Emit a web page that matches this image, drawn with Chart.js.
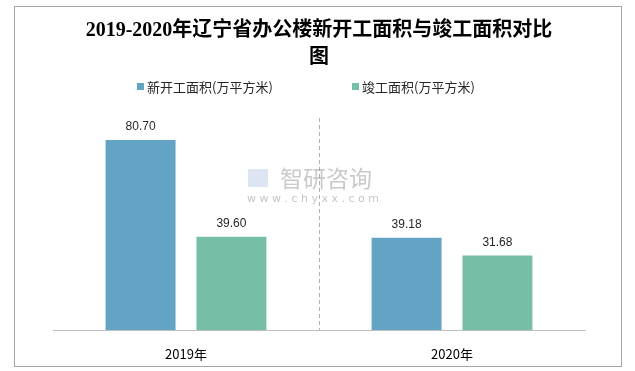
<!DOCTYPE html>
<html>
<head>
<meta charset="utf-8">
<script src="https://cdn.jsdelivr.net/npm/chart.js@4.4.0/dist/chart.umd.min.js"></script>
<style>
  html, body { margin: 0; padding: 0; background: #fff; }
  #wrap { position: relative; width: 635px; height: 371px; }
  #frame { position: absolute; left: 14px; top: 6px; width: 606px; height: 359px; border: 1px solid #a6a6a6; pointer-events: none; }
</style>
</head>
<body>
<div id="wrap">
  <canvas id="grafico" width="635" height="371"></canvas>
  <div id="frame"></div>
</div>
<script>
// datos del grafico
const anios = ['2019年', '2020年'];
const nuevos = [80.70, 39.18];
const terminados = [39.60, 31.68];
const nombresSeries = ['新开工面积(万平方米)', '竣工面积(万平方米)'];
const coloresSeries = ['#63a3c3', '#76bfa6'];

const fuenteCJK = '"Noto Sans CJK SC", "Liberation Sans", sans-serif';

// leyenda dibujada a mano (los items estan muy separados en el original)
const leyendaPlugin = {
    id: 'leyendaManual',
    afterDraw(chart) {
        const ctx = chart.ctx;
        const posiciones = [137, 352];
        ctx.save();
        ctx.font = '13px ' + fuenteCJK;
        ctx.textAlign = 'left';
        ctx.textBaseline = 'middle';
        chart.data.datasets.forEach(function (ds, i) {
            ctx.fillStyle = ds.backgroundColor;
            ctx.fillRect(posiciones[i], 83, 7, 7);
            ctx.fillStyle = '#262626';
            ctx.fillText(ds.label, posiciones[i] + 10, 87);
        });
        ctx.restore();
    }
};

// etiquetas encima de cada barra + marca de agua
const etiquetasPlugin = {
    id: 'etiquetas',
    afterDatasetsDraw(chart) {
        const ctx = chart.ctx;
        ctx.save();
        ctx.font = '12px "Liberation Sans", Arial, sans-serif';
        ctx.fillStyle = '#262626';
        ctx.textAlign = 'center';
        ctx.textBaseline = 'bottom';
        chart.data.datasets.forEach(function (ds, i) {
            chart.getDatasetMeta(i).data.forEach(function (barra, j) {
                ctx.fillText(ds.data[j].toFixed(2), barra.x, barra.y - 7);
            });
        });
        // marca de agua
        ctx.fillStyle = 'rgba(150,150,150,0.5)';
        ctx.font = '23px ' + fuenteCJK;
        ctx.textAlign = 'left';
        ctx.textBaseline = 'middle';
        ctx.fillText('智研咨询', 280, 178);
        ctx.font = '11px "DejaVu Sans", sans-serif';
        ctx.fillStyle = 'rgba(150,150,150,0.55)';
        ctx.fillText('w w w . c h y x x . c o m', 247, 199);
        ctx.fillStyle = 'rgba(140,170,210,0.3)';
        ctx.fillRect(248, 169, 20, 18);
        ctx.restore();
    }
};

const ctx = document.getElementById('grafico').getContext('2d');
const miGrafico = new Chart(ctx, {
    type: 'bar',
    data: {
        labels: anios,
        datasets: [{
            label: nombresSeries[0],
            data: nuevos,
            backgroundColor: coloresSeries[0],
            categoryPercentage: 0.683,
            barPercentage: 0.77
        }, {
            label: nombresSeries[1],
            data: terminados,
            backgroundColor: coloresSeries[1],
            categoryPercentage: 0.683,
            barPercentage: 0.77
        }]
    },
    options: {
        responsive: false,
        animation: false,
        devicePixelRatio: 1,
        layout: { padding: { left: 53, right: 50, top: 17, bottom: 0 } },
        plugins: {
            title: {
                display: true,
                text: ['2019-2020年辽宁省办公楼新开工面积与竣工面积对比', '图'],
                color: '#000',
                font: { family: '"Liberation Serif", "Noto Sans CJK SC", serif', size: 20, weight: 'bold', lineHeight: 1.35 },
                padding: { top: 0, bottom: 47 }
            },
            legend: { display: false },
            tooltip: { enabled: false }
        },
        scales: {
            x: {
                afterFit: function (escala) { escala.height = 41; },
                grid: {
                    offset: true,
                    drawTicks: false,
                    color: function (c) { return c.index === 1 ? '#b0b0b0' : 'rgba(0,0,0,0)'; }
                },
                border: { display: true, color: '#bfbfbf', dash: [4, 3] },
                ticks: { color: '#000', padding: 16, font: { family: fuenteCJK, size: 13 } }
            },
            y: {
                display: false,
                min: 0,
                max: 90
            }
        }
    },
    plugins: [etiquetasPlugin, leyendaPlugin]
});
</script>
</body>
</html>
